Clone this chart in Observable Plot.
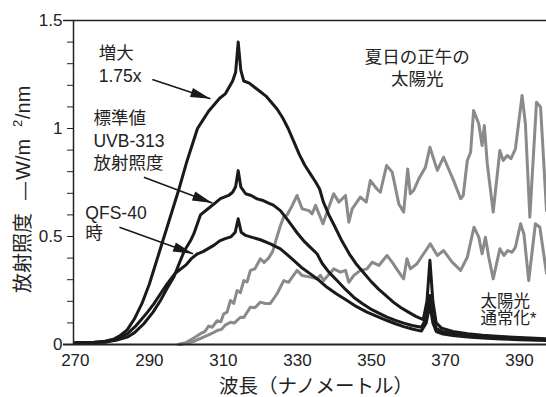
<!DOCTYPE html>
<html><head><meta charset="utf-8">
<script src="https://cdn.jsdelivr.net/npm/d3@7"></script>
<script src="https://cdn.jsdelivr.net/npm/@observablehq/plot@0.6"></script>
<style>
html,body{margin:0;padding:0;background:#fff;}
#chart{width:546px;height:397px;overflow:hidden;}
</style></head><body><div id="chart"></div>
<script>
// ---- data: [wavelength nm, irradiance W/m2/nm] ----
const uvb313x175 = [[270,0.008],[275,0.01],[278,0.015],[280.5,0.026],[282,0.04],[284,0.068],[286,0.12],[288,0.19],[290,0.28],[292,0.39],[294,0.5],[296,0.61],[298,0.72],[300,0.84],[301.5,0.92],[303,1.0],[304.5,1.04],[306,1.08],[307.5,1.11],[309,1.14],[310.5,1.16],[311.5,1.19],[312.5,1.22],[313.3,1.26],[314,1.40],[314.7,1.27],[315.5,1.22],[317,1.21],[318.5,1.19],[320,1.17],[321.5,1.15],[323,1.12],[324.5,1.09],[326,1.05],[327.5,1.0],[329,0.94],[330.5,0.88],[332,0.83],[333.5,0.79],[335,0.75],[336,0.72],[337,0.66],[338.5,0.6],[340,0.55],[342,0.48],[344,0.42],[346,0.37],[348,0.33],[350,0.29],[352,0.255],[354,0.225],[356,0.195],[358,0.17],[360,0.15],[362,0.13],[364,0.115],[365,0.2],[365.8,0.39],[366.6,0.2],[367.5,0.1],[369,0.075],[372,0.06],[376,0.05],[380,0.043],[385,0.037],[390,0.032],[397.3,0.027]];
const uvb313 = [[270,0.008],[275,0.009],[278,0.012],[281,0.02],[284,0.034],[286,0.055],[288.5,0.096],[291,0.15],[293,0.204],[294.8,0.26],[296.6,0.312],[298.4,0.39],[299.5,0.435],[301.1,0.48],[302,0.512],[303.8,0.6],[305.6,0.625],[307.4,0.65],[309.2,0.675],[311.4,0.69],[312.5,0.705],[313.3,0.73],[314,0.805],[314.7,0.73],[316,0.698],[317.5,0.69],[319.1,0.674],[320.5,0.668],[322.2,0.655],[323.5,0.645],[325.4,0.62],[327,0.585],[328.5,0.55],[330,0.515],[331.7,0.48],[333.5,0.45],[335.3,0.42],[336.7,0.375],[338.5,0.335],[340.7,0.296],[343,0.255],[345.2,0.219],[347.5,0.19],[349.7,0.165],[352,0.145],[354.2,0.127],[356.5,0.112],[358.7,0.099],[361,0.088],[363.5,0.08],[364.8,0.12],[365.8,0.227],[366.6,0.12],[367.5,0.075],[369,0.06],[372,0.05],[376,0.042],[380,0.036],[385,0.031],[390,0.027],[397.3,0.022]];
const qfs40 = [[270,0.008],[275,0.009],[278.6,0.012],[281,0.025],[284,0.049],[286,0.08],[287.6,0.111],[289.5,0.15],[291.2,0.188],[293,0.235],[294.8,0.281],[297,0.33],[300,0.37],[301.5,0.4],[303,0.42],[304.5,0.43],[306,0.445],[307.5,0.46],[309,0.48],[310.5,0.49],[312,0.498],[313.2,0.52],[314,0.582],[314.8,0.52],[316,0.505],[318,0.495],[320,0.485],[322.7,0.466],[325.4,0.443],[327,0.42],[329,0.389],[331,0.358],[333.5,0.327],[336,0.295],[338,0.265],[340.5,0.235],[343.4,0.204],[346,0.175],[348.8,0.15],[351.5,0.13],[354.2,0.111],[356.5,0.096],[358.7,0.083],[361,0.072],[363.5,0.062],[364.8,0.1],[365.8,0.185],[366.6,0.1],[367.5,0.06],[369,0.05],[372,0.042],[376,0.035],[380,0.03],[385,0.026],[390,0.022],[397.3,0.018]];
const sunNoon = [[297.9,0],[300,0.01],[302,0.03],[303.8,0.05],[305,0.06],[306,0.085],[307,0.08],[308.3,0.11],[309.3,0.105],[310.1,0.142],[311,0.15],[311.9,0.204],[312.8,0.19],[313.7,0.25],[314.6,0.24],[315.5,0.296],[316.4,0.29],[317.3,0.343],[318.5,0.35],[320,0.397],[321,0.38],[322.2,0.40],[323.3,0.43],[324.5,0.5],[325.4,0.55],[326.3,0.59],[327.2,0.6],[328.5,0.64],[329.9,0.69],[331.3,0.628],[333.1,0.62],[334,0.605],[334.9,0.644],[336.9,0.559],[339.8,0.698],[341.2,0.659],[343,0.69],[343.9,0.566],[344.8,0.628],[347,0.682],[348.6,0.659],[349.7,0.759],[351.5,0.72],[352.4,0.705],[354.1,0.829],[355.6,0.798],[357.4,0.651],[358.7,0.613],[359.8,0.813],[360.5,0.698],[361.4,0.713],[362.8,0.767],[364.6,0.821],[365.8,0.913],[367.8,0.806],[369.5,0.867],[372.2,0.759],[374.1,0.675],[374.8,0.69],[375.9,0.852],[376.8,0.89],[377.6,1.083],[379,1.022],[379.9,0.921],[380.5,1.014],[381.3,0.836],[382.9,0.613],[384.7,0.898],[385.6,0.852],[386.7,0.875],[387.7,0.86],[388.9,0.906],[390.7,1.153],[391.6,1.022],[392.8,0.589],[394.6,1.122],[395.7,1.099],[397.3,0.62]];
const sunNormalized = [[297.9,0],[300,0.005],[302,0.015],[304,0.03],[306,0.045],[307.3,0.055],[308.3,0.065],[309.5,0.07],[310.5,0.09],[311.9,0.103],[313,0.1],[314.6,0.126],[315.5,0.125],[317.3,0.173],[318.5,0.17],[320,0.196],[321.3,0.19],[322.7,0.19],[324.5,0.235],[326.3,0.296],[327.6,0.288],[329.9,0.343],[331.3,0.319],[333.5,0.312],[335.3,0.304],[336.2,0.32],[337.1,0.296],[339.8,0.35],[341.6,0.335],[343,0.343],[343.9,0.288],[345.2,0.319],[347,0.343],[348.8,0.35],[350.2,0.381],[352,0.366],[354.2,0.412],[355.6,0.381],[357.4,0.335],[358.7,0.304],[359.6,0.397],[360.5,0.35],[362.3,0.374],[364.1,0.42],[365.9,0.466],[367.8,0.412],[369.5,0.435],[371.8,0.381],[374.1,0.343],[375.9,0.404],[377.7,0.543],[379,0.497],[379.9,0.42],[380.8,0.497],[381.7,0.404],[382.9,0.304],[384.7,0.443],[385.8,0.412],[386.8,0.435],[388,0.427],[388.9,0.45],[390.3,0.559],[391.2,0.512],[392.5,0.296],[394.3,0.559],[395.5,0.543],[397.3,0.33]];

const xTicks = [270, 290, 310, 330, 350, 370, 390];
const yTicks = [0,0.1,0.2,0.3,0.4,0.5,0.6,0.7,0.8,0.9,1,1.1,1.2,1.3,1.4,1.5];
const yTickLabels = {"0":"0","0.5":"0.5","1":"1","1.5":"1.5"};

const xLabel = "波長（ナノメートル）";
const yLabelCJK = "放射照度";
const yLabelDash = "—";
const yLabelUnit = "W/m";
const yLabelSup = "2";
const yLabelTail = "/nm";

// annotations (data coordinates)
const notesLeft = [
  {x:276.3, y:1.347, t:"増大"},
  {x:276.3, y:1.240, t:"1.75x"},
  {x:274.9, y:1.046, t:"標準値"},
  {x:274.9, y:0.940, t:"UVB-313"},
  {x:274.9, y:0.838, t:"放射照度"},
  {x:272.7, y:0.607, t:"QFS-40"},
  {x:272.7, y:0.514, t:"時"}
];
const notesCenter = [
  {x:362.4, y:1.330, t:"夏日の正午の"},
  {x:362.4, y:1.226, t:"太陽光"}
];
const notesRight = [
  {x:379.5, y:0.196, t:"太陽光"},
  {x:379.5, y:0.119, t:"通常化*"}
];
const arrows = [
  {x1:290.8, y1:1.227, x2:306.5, y2:1.1375},
  {x1:288.5, y1:0.774, x2:307.0, y2:0.655},
  {x1:281.9, y1:0.543, x2:301.8, y2:0.420}
];

// ---- layout ----
const W = 546, H = 397;
const mL = 73, mR = 0, mT = 20, mB = 53;
const xDomain = [269.5, 397.3];
const yDomain = [0, 1.5];
const FONT = '"Liberation Sans", Arial, "Noto Sans CJK JP", sans-serif';
const BLACK = "#1a1a1a", GRAY = "#8a8a8a";

const xs = Plot.scale({x: {domain: xDomain, range: [mL, W - mR]}});
const ys = Plot.scale({y: {domain: yDomain, range: [H - mB, mT]}});
arrows.forEach(a => {
  const dx = xs.apply(a.x2) - xs.apply(a.x1);
  const dy = ys.apply(a.y2) - ys.apply(a.y1);
  a.angle = Math.atan2(dy, dx) * 180 / Math.PI;
});
const headSymbol = {draw(ctx){ ctx.moveTo(0,0); ctx.lineTo(-20,-4.8); ctx.lineTo(-20,4.8); ctx.closePath(); }};

const px = d => d[0], py = d => d[1];

const plot = Plot.plot({
  width: W, height: H,
  marginLeft: mL, marginRight: mR, marginTop: mT, marginBottom: mB,
  x: {domain: xDomain},
  y: {domain: yDomain},
  style: {fontFamily: FONT, fontSize: "17px", color: "#222", background: "#fff"},
  marks: [
    Plot.line(sunNoon, {x: px, y: py, stroke: GRAY, strokeWidth: 3}),
    Plot.line(sunNormalized, {x: px, y: py, stroke: GRAY, strokeWidth: 3}),
    Plot.line(qfs40, {x: px, y: py, stroke: BLACK, strokeWidth: 3}),
    Plot.line(uvb313, {x: px, y: py, stroke: BLACK, strokeWidth: 3}),
    Plot.line(uvb313x175, {x: px, y: py, stroke: BLACK, strokeWidth: 3}),
    Plot.ruleY([0], {stroke: "#222", strokeWidth: 2, insetLeft: -10}),
    Plot.ruleY([1.5], {stroke: "#222", strokeWidth: 1.5, insetLeft: -10}),
    Plot.ruleX([xDomain[0]], {y1: 0, y2: 1.5, stroke: "#222", strokeWidth: 1.5}),
    Plot.axisY({ticks: yTicks, tickSize: 6, tickPadding: 5, label: null, stroke: "#222",
      tickFormat: d => yTickLabels[String(+d.toFixed(1))] ?? ""}),
    Plot.axisX({ticks: xTicks, tickSize: 0, tickPadding: 9, label: null, tickFormat: d => String(d)}),
    Plot.link(arrows, {x1: "x1", y1: "y1", x2: "x2", y2: "y2", stroke: BLACK, strokeWidth: 1.6}),
    Plot.dot(arrows, {x: "x2", y: "y2", symbol: headSymbol, r: 5, fill: BLACK, stroke: "none", rotate: "angle"}),
    Plot.text(notesLeft, {x: "x", y: "y", text: "t", textAnchor: "start", fontSize: 17.5, fill: "#222"}),
    Plot.text(notesCenter, {x: "x", y: "y", text: "t", textAnchor: "middle", fontSize: 17.5, fill: "#222"}),
    Plot.text(notesRight, {x: "x", y: "y", text: "t", textAnchor: "start", fontSize: 16.5, fill: "#222"})
  ]
});

const svg = d3.select(plot);
svg.append("text")
  .attr("x", 316).attr("y", 393)
  .attr("text-anchor", "middle")
  .attr("font-family", FONT).attr("font-size", 19.5).attr("fill", "#222")
  .text(xLabel);
// rotated y label, built from left (bottom) to right (top)
const yl = svg.append("text")
  .attr("transform", "translate(30,293) rotate(-90)")
  .attr("text-anchor", "start")
  .attr("font-family", FONT).attr("font-size", 20).attr("fill", "#222")
  .attr("xml:space", "preserve");
yl.append("tspan").attr("x", 0).text(yLabelCJK);
yl.append("tspan").attr("x", 93).attr("font-size", 18).text(yLabelDash);
yl.append("tspan").attr("x", 113).text(yLabelUnit);
yl.append("tspan").attr("x", 166).attr("font-size", 13).attr("dy", -8).text(yLabelSup);
yl.append("tspan").attr("x", 174).attr("dy", 8).text(yLabelTail);

document.getElementById("chart").appendChild(plot);
</script>
</body></html>
